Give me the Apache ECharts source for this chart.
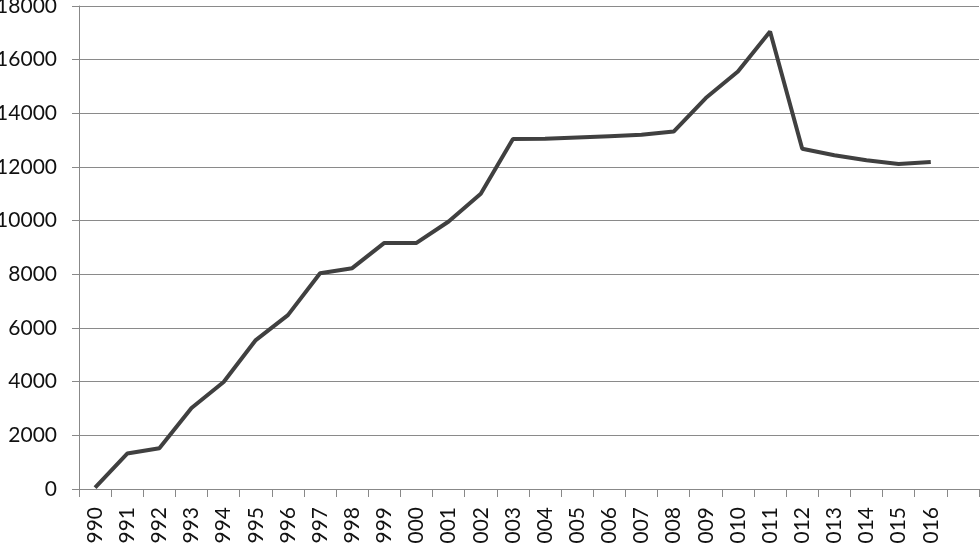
<!DOCTYPE html>
<html>
<head>
<meta charset="utf-8">
<script src="https://cdn.jsdelivr.net/npm/echarts@6/dist/echarts.min.js"></script>
<style>
html,body{margin:0;padding:0;background:#fff;}
#chart{width:980px;height:544px;}
</style>
</head>
<body>
<div id="chart"></div>
<script>
const categories = ['1990','1991','1992','1993','1994','1995','1996','1997','1998','1999','2000','2001','2002','2003','2004','2005','2006','2007','2008','2009','2010','2011','2012','2013','2014','2015','2016','2017'];
const tickLabels = ['990','991','992','993','994','995','996','997','998','999','000','001','002','003','004','005','006','007','008','009','010','011','012','013','014','015','016',''];
const values = [50,1320,1520,3020,3990,5550,6480,8040,8230,9170,9170,9970,11000,13040,13050,13100,13150,13200,13320,14570,15560,17050,12680,12440,12250,12110,12190,null];
const yTicks = [0,2000,4000,6000,8000,10000,12000,14000,16000,18000];

const chart = echarts.init(document.getElementById('chart'));
chart.setOption({
  animation: false,
  grid: {left: 79, right: 1, top: 6, bottom: 55, containLabel: false, outerBoundsMode: 'none'},
  xAxis: {
    type: 'category',
    data: categories,
    boundaryGap: true,
    axisLine: {show: true, lineStyle: {color: '#888', width: 1}},
    axisTick: {show: true, length: 8, alignWithLabel: false, interval: 0, lineStyle: {color: '#888'}},
    axisLabel: {
      interval: 0, rotate: 90, margin: 18,
      fontFamily: 'Lato', fontSize: 21, color: '#111',
      formatter: function (v, i) { return tickLabels[i]; }
    },
    splitLine: {show: false}
  },
  yAxis: {
    type: 'value',
    min: 0, max: yTicks[yTicks.length - 1], interval: 2000,
    axisLine: {show: true, lineStyle: {color: '#888', width: 1}},
    axisTick: {show: true, length: 7, lineStyle: {color: '#888'}},
    axisLabel: {margin: 22, fontFamily: 'Lato', fontSize: 21, color: '#111',
      formatter: function (v) { return String(v); }},
    splitLine: {show: true, lineStyle: {color: '#8a8a8a', width: 1}}
  },
  series: [{
    type: 'line',
    data: values,
    symbol: 'none',
    connectNulls: false,
    lineStyle: {color: '#404040', width: 4},
    itemStyle: {color: '#404040'}
  }]
});
</script>
</body>
</html>
